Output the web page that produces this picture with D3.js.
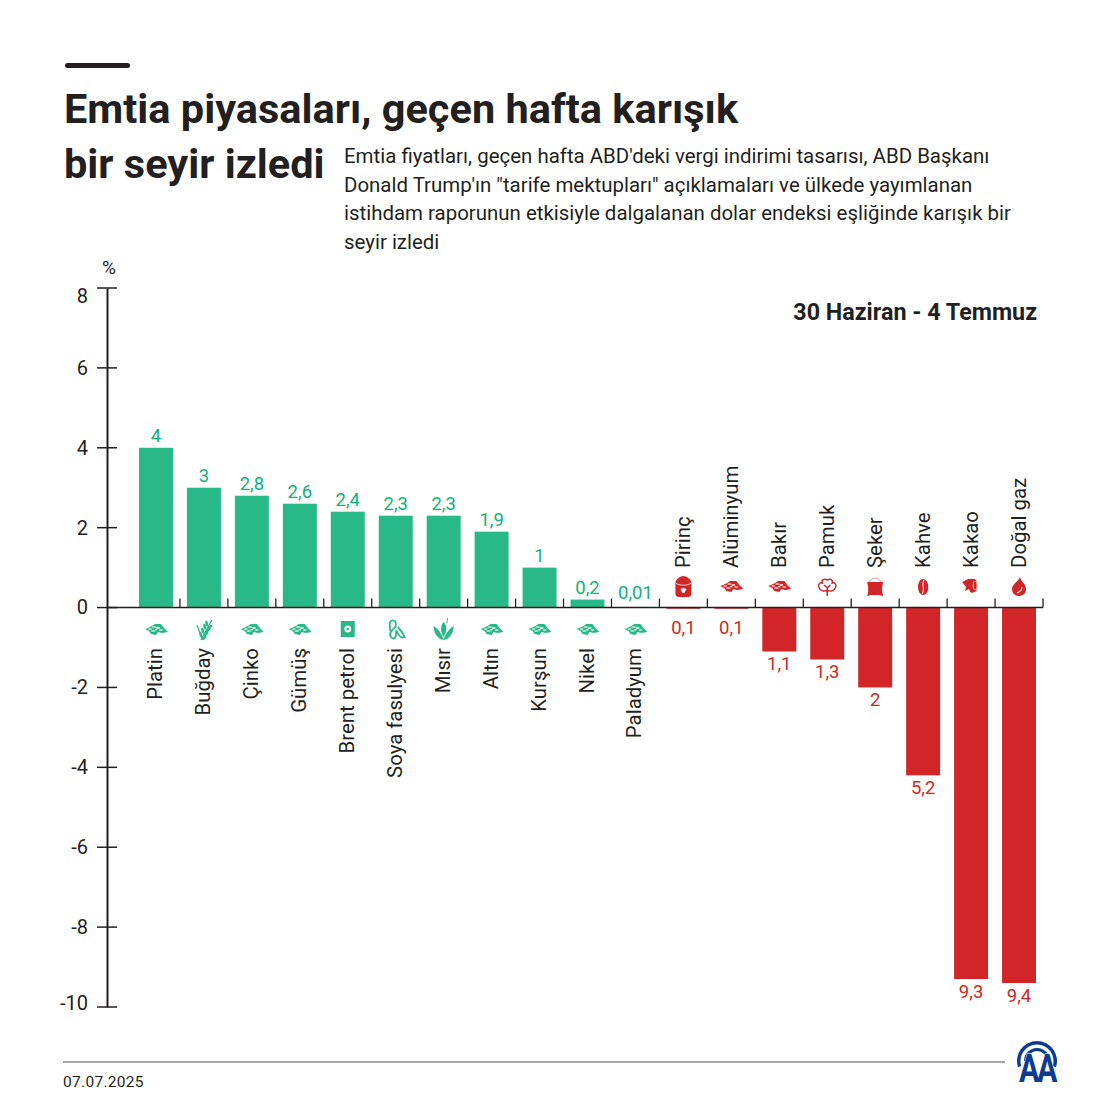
<!DOCTYPE html>
<html><head><meta charset="utf-8">
<script src="https://cdn.jsdelivr.net/npm/d3@7"></script>
<style>html,body{margin:0;padding:0;background:#fff}svg{display:block}text{font-family:Roboto,sans-serif}</style>
</head><body><div id="c"></div>
<script>
const categories=["Platin","Buğday","Çinko","Gümüş","Brent petrol","Soya fasulyesi","Mısır","Altın","Kurşun","Nikel","Paladyum","Pirinç","Alüminyum","Bakır","Pamuk","Şeker","Kahve","Kakao","Doğal gaz"];
const barValues=[4,3,2.8,2.6,2.4,2.3,2.3,1.9,1,0.2,0.01,-0.03,-0.03,-1.1,-1.3,-2,-4.2,-9.3,-9.4];
const valueLabels=["4","3","2,8","2,6","2,4","2,3","2,3","1,9","1","0,2","0,01","0,1","0,1","1,1","1,3","2","5,2","9,3","9,4"];
const icons=["ore","wheat","ore","ore","oil","soy","corn","ore","ore","ore","ore","rice","ore","ore","cotton","sack","coffee","cocoa","flame"];
const yTicks=[8,6,4,2,0,-2,-4,-6,-8,-10];
const titleLines=["Emtia piyasaları, geçen hafta karışık","bir seyir izledi"];
const bodyLines=["Emtia fiyatları, geçen hafta ABD'deki vergi indirimi tasarısı, ABD Başkanı","Donald Trump'ın \"tarife mektupları\" açıklamaları ve ülkede yayımlanan","istihdam raporunun etkisiyle dalgalanan dolar endeksi eşliğinde karışık bir","seyir izledi"];
const GREEN="#29b887",GREENT="#10b27a",RED="#d12527",INK="#231f20";

const svg=d3.select("#c").append("svg").attr("width",1120).attr("height",1120);
const y=d3.scaleLinear().domain([8,-10]).range([288,1007]);
const x=d3.scaleBand().domain(categories).range([132,1043]).paddingInner(14/48).paddingOuter(7/48);

svg.append("rect").attr("x",65).attr("y",63).attr("width",65).attr("height",5).attr("rx",2.5).attr("fill",INK);
svg.selectAll(".t").data(titleLines).join("text").attr("x",64).attr("y",(d,i)=>123+i*54.5)
  .attr("font-size",41.5).attr("font-weight",700).attr("fill",INK).text(d=>d);
svg.selectAll(".b").data(bodyLines).join("text").attr("x",344).attr("y",(d,i)=>163+i*28.7)
  .attr("font-size",20.45).attr("fill",INK).text(d=>d);
svg.append("text").attr("x",1037).attr("y",320).attr("text-anchor","end").attr("font-size",23.3).attr("font-weight",700).attr("fill",INK).text("30 Haziran - 4 Temmuz");
svg.append("text").attr("x",109).attr("y",274).attr("text-anchor","middle").attr("font-size",19).attr("fill",INK).text("%");

// bars
svg.selectAll(".bar").data(categories).join("rect")
  .attr("x",d=>x(d)).attr("width",x.bandwidth())
  .attr("y",(d,i)=>Math.min(y(0),y(barValues[i])))
  .attr("height",(d,i)=>Math.abs(y(barValues[i])-y(0)))
  .attr("fill",(d,i)=>barValues[i]>=0?GREEN:RED);

// y axis
const ya=d3.axisLeft(y).tickValues(yTicks).tickSize(0).tickPadding(19).tickFormat(d=>String(d));
const gy=svg.append("g").attr("transform","translate(107,0)").call(ya);
gy.select(".domain").attr("stroke",INK).attr("stroke-width",2);
gy.selectAll("text").attr("font-size",20).attr("fill",INK).attr("font-family","Roboto")
  .attr("y",d=>d===8?8:d===-10?-4:0);
svg.selectAll(".yt").data(yTicks).join("line").attr("x1",97).attr("x2",117).attr("y1",d=>y(d)).attr("y2",d=>y(d)).attr("stroke",INK).attr("stroke-width",1.5);

// zero line with ticks at band edges
svg.append("line").attr("x1",107).attr("x2",1043).attr("y1",y(0)).attr("y2",y(0)).attr("stroke",INK).attr("stroke-width",1.5);
svg.selectAll(".xt").data(categories).join("line")
  .attr("x1",d=>x(d)+x.bandwidth()+7).attr("x2",d=>x(d)+x.bandwidth()+7)
  .attr("y1",y(0)-9).attr("y2",y(0)).attr("stroke",INK).attr("stroke-width",1.3);

// value labels
svg.selectAll(".v").data(categories).join("text")
  .attr("x",d=>x(d)+x.bandwidth()/2)
  .attr("y",(d,i)=>{const v=barValues[i];return v>=0?y(v)-(Math.abs(v)<.1?8:5.5):y(v)+(Math.abs(v)<.1?25:19);})
  .attr("text-anchor","middle").attr("font-size",18.5).attr("font-weight",400)
  .attr("fill",(d,i)=>barValues[i]>=0?GREENT:RED)
  .text((d,i)=>valueLabels[i]);

// category labels
svg.selectAll(".c").data(categories).join("text")
  .attr("transform",(d,i)=>{const X=x(d)+x.bandwidth()/2+(barValues[i]>=0?6:6.5),Y=barValues[i]>=0?648:568;return `translate(${X},${Y}) rotate(-90)`;})
  .attr("text-anchor",(d,i)=>barValues[i]>=0?"end":"start")
  .attr("font-size",20.4).attr("fill",INK).text(d=>d);

// icons
const draw={
 ore(g,c){g.append("path").attr("fill",c).attr("d","M-11,-1 L-6,-3 L-1,-6 L5,-6 L8,-2 L12,2 L6,3 L2,2 L0,5 L-5,4 L-7,1Z");
   [[-6,-1,2,.8],[-2,-3,2.4,.8],[2,-2,2,1],[5,0,2,.8],[-3,1,2.4,.8],[0,-.3,1.4,.7]].forEach(p=>g.append("ellipse").attr("cx",p[0]).attr("cy",p[1]).attr("rx",p[2]).attr("ry",p[3]).attr("fill","#fff").attr("opacity",.85));},
 wheat(g,c){g.append("path").attr("fill","none").attr("stroke",c).attr("stroke-width",1.3).attr("d","M-3,10 L8,-10 M-2,8 L-7,-5");
   [[3,-3],[5,-6],[1,1],[-1,5]].forEach(p=>{g.append("ellipse").attr("cx",p[0]-2).attr("cy",p[1]-1).attr("rx",1.4).attr("ry",3).attr("fill",c).attr("transform",`rotate(-15 ${p[0]} ${p[1]})`);g.append("ellipse").attr("cx",p[0]+3).attr("cy",p[1]+1).attr("rx",1.4).attr("ry",3).attr("fill",c).attr("transform",`rotate(50 ${p[0]} ${p[1]})`);});},
 oil(g,c){g.append("rect").attr("x",-7).attr("y",-9).attr("width",14).attr("height",16).attr("fill",c);
   g.append("circle").attr("cx",0).attr("cy",-1).attr("r",3.4).attr("fill","#fff");g.append("circle").attr("cx",0).attr("cy",-1).attr("r",1.3).attr("fill",c);},
 soy(g,c){g.append("path").attr("fill","none").attr("stroke",c).attr("stroke-width",1.8).attr("d","M-5,-9 C-1,-11 1,-8 0,-4 C-1,-1 -4,0 -5,2 C-7,6 -3,10 -1,8 C2,5 -1,3 1,0 M-5,-9 C-7,-6 -6,-3 -5,2 M2,-3 C5,0 7,3 9,7 C6,9 3,6 1,1");},
 corn(g,c){g.append("path").attr("fill",c).attr("d","M-10,-4 C-10,3 -6,9 0,10 C-1,5 -5,-1 -10,-4Z M10,-4 C10,3 6,9 0,10 C1,5 5,-1 10,-4Z");
   g.append("path").attr("fill",c).attr("d","M0,7 C-4,1 -3,-5 0,-8 C3,-5 4,1 0,7Z");g.append("path").attr("fill","none").attr("stroke",c).attr("stroke-width",1).attr("d","M3,-7 L4,-12");},
 rice(g,c){g.append("path").attr("fill",c).attr("d","M-8,-5 C-7,-8 -3,-11 0,-11 C3,-11 7,-8 8,-5 L8,7 C8,9 6,10 5,10 L-5,10 C-6,10 -8,9 -8,7Z");
   g.append("path").attr("fill","none").attr("stroke","#fff").attr("stroke-width",.8).attr("d","M-8,-4 C-3,-1 3,-1 8,-4");
   g.append("path").attr("fill","#fff").attr("d","M-3,2 L0,1 L3,2 L1,6 L-1,6Z");},
 cotton(g,c){g.append("path").attr("fill","none").attr("stroke",c).attr("stroke-width",1.5).attr("d","M0,-7 C3,-9 6,-7 5,-4 C8,-5 10,-1 8,1 C7,4 3,5 0,3 C-3,5 -7,4 -8,1 C-10,-1 -8,-5 -5,-4 C-6,-7 -3,-9 0,-7Z M0,0 L0,9 M-3,-2 L0,1 L3,-2");},
 sack(g,c){g.append("path").attr("fill",c).attr("d","M-8,-5 L8,-5 L7,0 L7,5 L8,9 L4,8 L-4,8 L-8,9 L-7,5 L-7,0Z");
   g.append("path").attr("fill","none").attr("stroke",c).attr("stroke-width",.8).attr("opacity",.6).attr("d","M-6,-5 C-4,-10 4,-10 6,-5");},
 coffee(g,c){g.append("ellipse").attr("rx",5.2).attr("ry",8).attr("fill",c);
   g.append("path").attr("fill","none").attr("stroke","#fff").attr("stroke-width",1).attr("d","M1,-7 C-2,-3 2,2 -1,7");},
 cocoa(g,c){g.append("path").attr("fill",c).attr("d","M-9,-5 L-3,-8 L4,-8 C7,-5 7,1 5,4 C3,6 0,6 -1,5 L-2,2 L-6,4 L-5,0Z");
   g.append("ellipse").attr("cx",4).attr("cy",-1.5).attr("rx",2).attr("ry",4.5).attr("fill","none").attr("stroke","#fff").attr("stroke-width",.7);},
 flame(g,c){g.append("path").attr("fill",c).attr("d","M1,-10 C2,-5 7,-3 7,2 C7,7 3,9 0,9 C-4,9 -7,6 -7,2 C-7,-3 -1,-5 1,-10Z");
   g.append("path").attr("fill","none").attr("stroke","#fff").attr("stroke-width",1.1).attr("d","M3,0 C3,4 0,5 -2,6");}
};
categories.forEach((d,i)=>{
  const up=barValues[i]<0;
  const g=svg.append("g").attr("transform",`translate(${x(d)+x.bandwidth()/2},${up?587:630})`);
  draw[icons[i]](g,up?RED:GREEN);
});

// footer
svg.append("line").attr("x1",63).attr("x2",1005).attr("y1",1062).attr("y2",1062).attr("stroke","#8d8d8d").attr("stroke-width",1.3);
svg.append("text").attr("x",63).attr("y",1087).attr("font-size",15.5).attr("letter-spacing",.3).attr("fill",INK).text("07.07.2025");
// logo
const NAVY="#0b3c8f",arc=d3.arc();
const lg=svg.append("g").attr("transform","translate(1037,1061)");
lg.append("path").attr("fill",NAVY).attr("d",arc({innerRadius:16.5,outerRadius:20,startAngle:-Math.PI*0.6,endAngle:Math.PI*0.6}));
lg.append("path").attr("fill",NAVY).attr("d",arc({innerRadius:10,outerRadius:13,startAngle:-Math.PI*0.5,endAngle:Math.PI*0.5}));
lg.append("text").attr("transform","translate(0,21) scale(.8,1)").attr("text-anchor","middle").attr("font-size",38).attr("font-weight",700).attr("letter-spacing",-3).attr("fill",NAVY).attr("stroke","#fff").attr("stroke-width",1).attr("paint-order","stroke").text("AA");
</script></body></html>
